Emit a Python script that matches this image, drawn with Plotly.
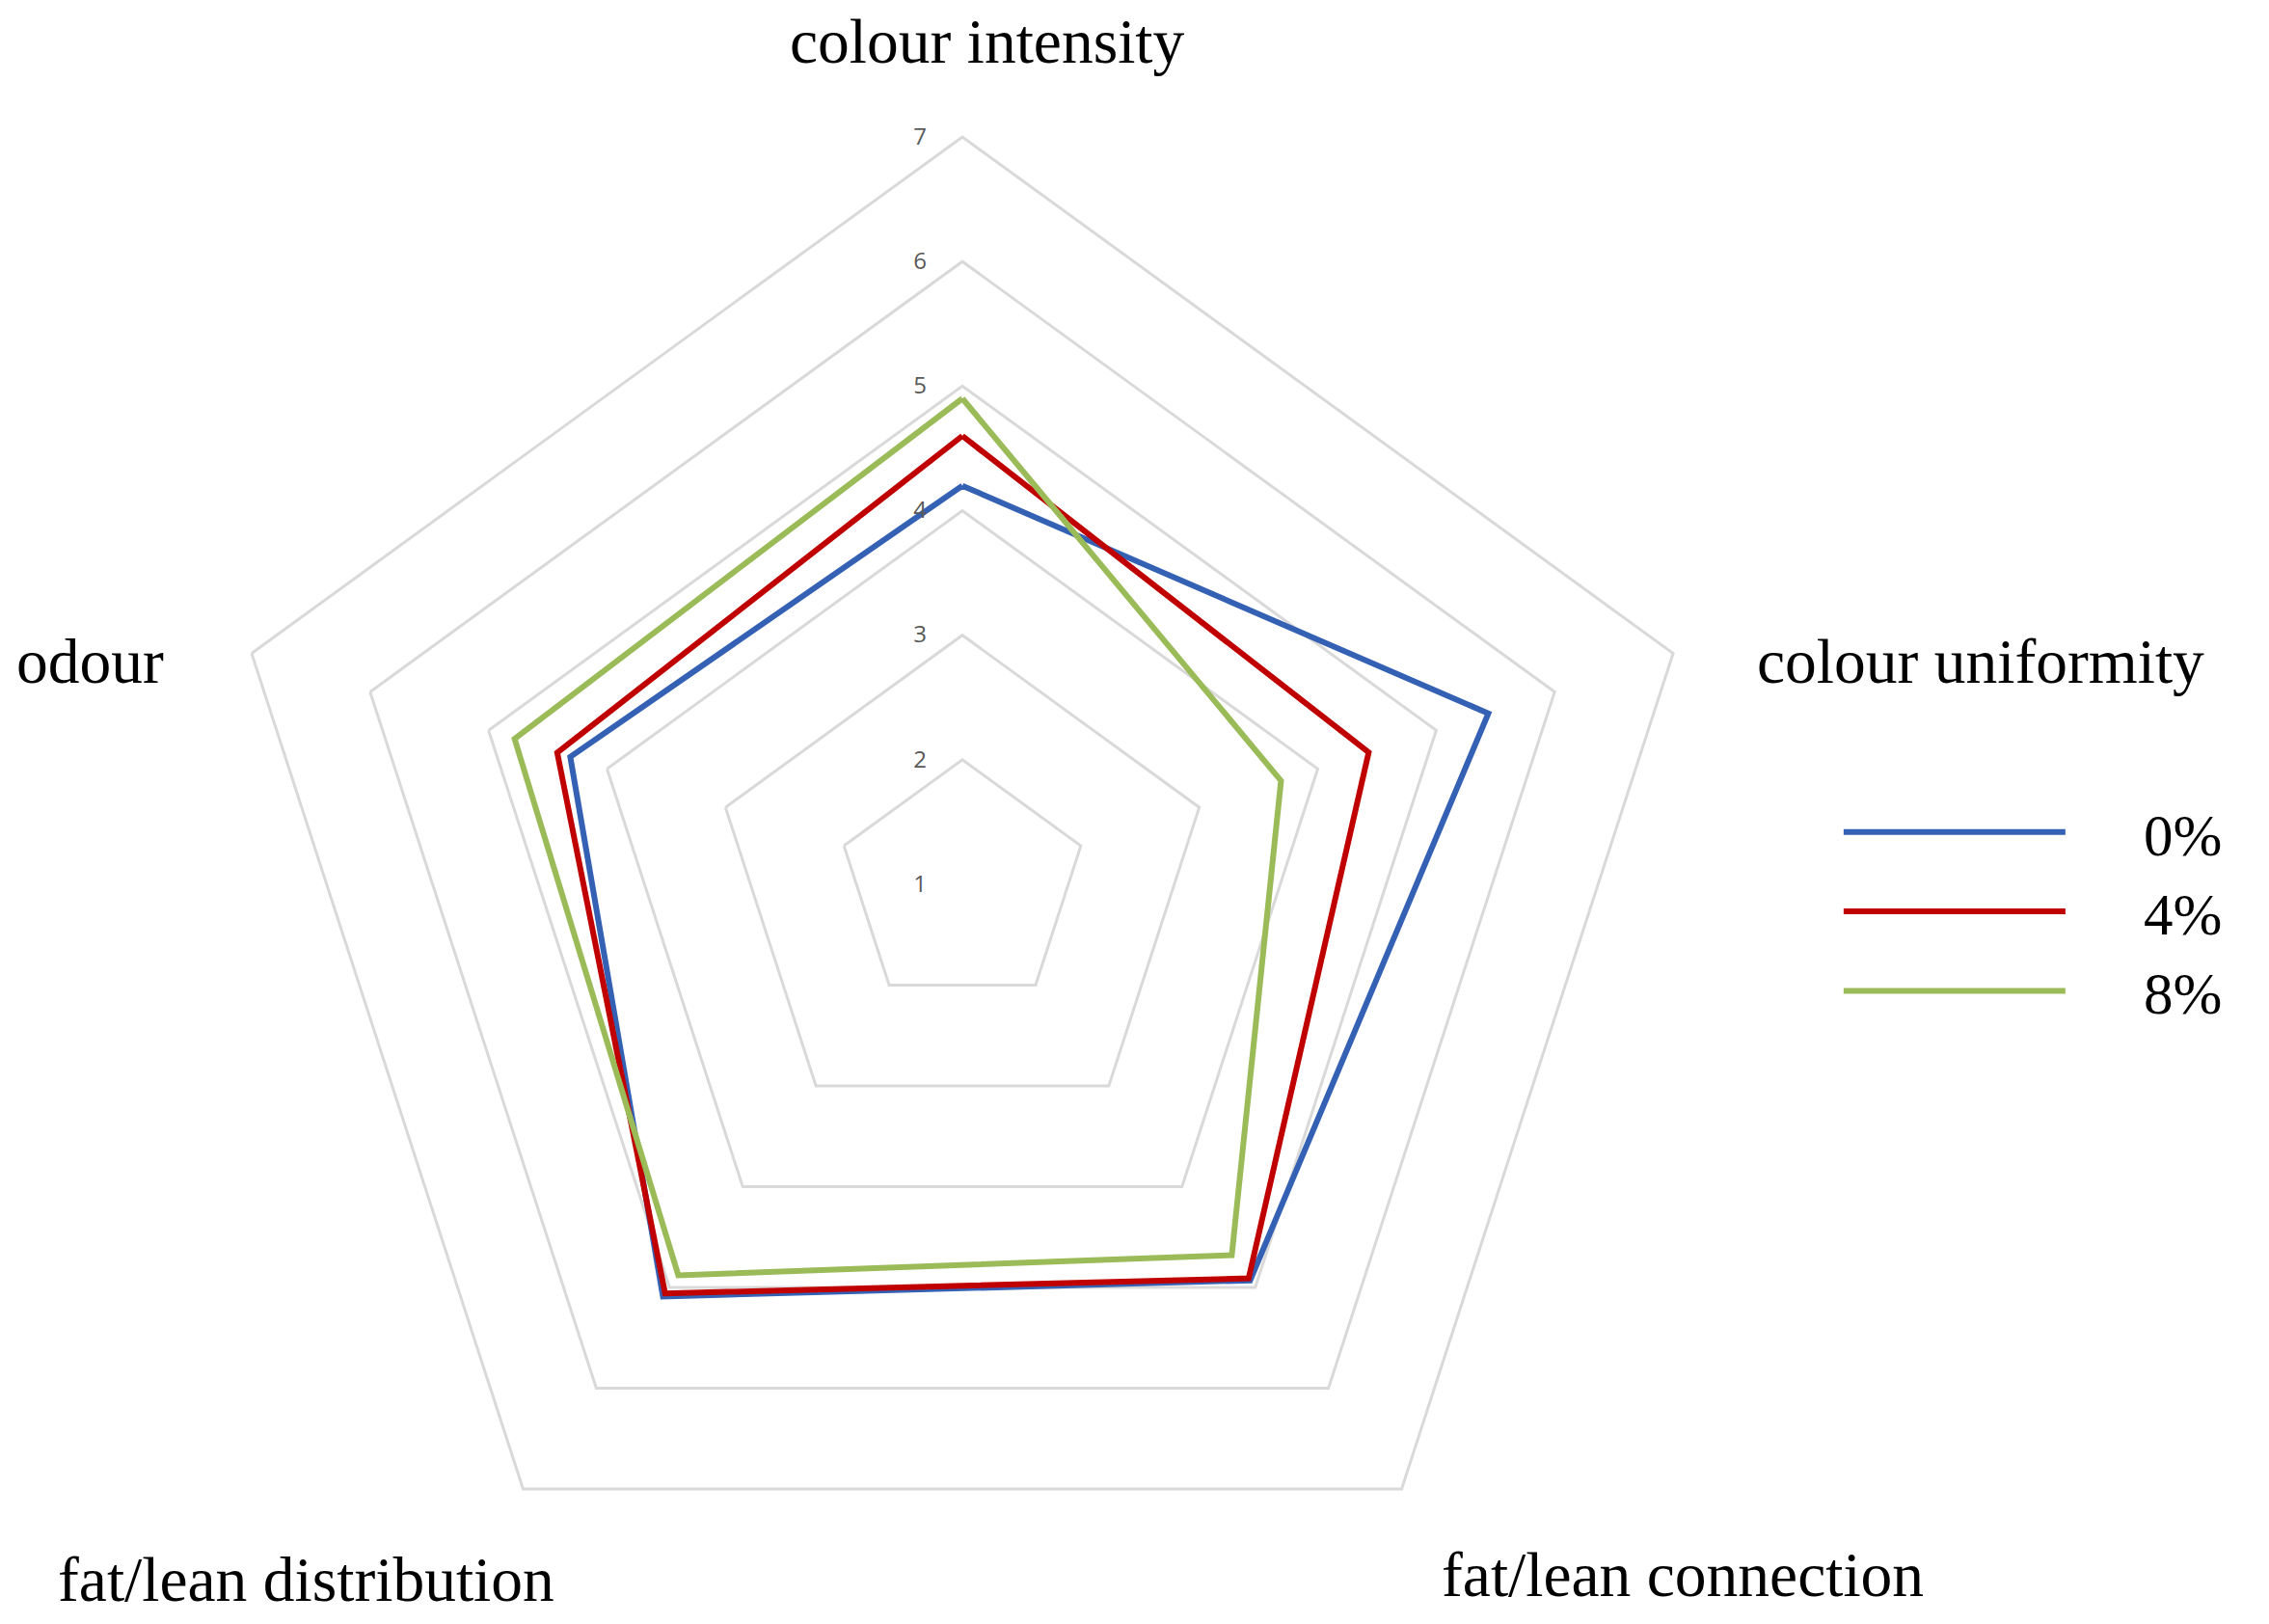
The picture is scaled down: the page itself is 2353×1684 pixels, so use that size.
import plotly.graph_objects as go

# attribute order runs clockwise from the top of the chart
attributes = [
    "colour intensity",
    "colour uniformity",
    "fat/lean connection",
    "fat/lean distribution",
    "odour",
]

series_names = ["0%", "4%", "8%"]
values_0 = [4.20, 5.44, 4.93, 5.09, 4.31]
values_4 = [4.60, 4.43, 4.91, 5.06, 4.42]
values_8 = [4.90, 3.69, 4.68, 4.88, 4.78]

radial_ticks = [1, 2, 3, 4, 5, 6, 7]

COLOURS = ["#3461B4", "#C00000", "#9BBB59"]
GRID = "#d9d9d9"
SERIF = "Liberation Serif, Times New Roman, serif"

W, H = 2353, 1684

# where each category label sits (paper px, centre of text)
LABEL_POS = [(1016, 35), (2046, 678), (1737, 1625), (309, 1630), (85, 678)]


def build_figure() -> go.Figure:
    fig = go.Figure()

    for name, vals, colour in zip(series_names, [values_0, values_4, values_8], COLOURS):
        # close the polygon by repeating the first point
        fig.add_trace(
            go.Scatterpolar(
                r=vals + vals[:1],
                theta=attributes + attributes[:1],
                mode="lines",
                # non-breaking spaces widen the gap between sample line and label
                name="\u00a0" * 5 + name,
                line=dict(color=colour, width=6),
            )
        )

    # category labels placed like the spreadsheet chart did
    for text, (px, py) in zip(attributes, LABEL_POS):
        fig.add_annotation(
            text=text,
            x=px / W,
            y=1 - py / H,
            xref="paper",
            yref="paper",
            xanchor="center",
            yanchor="middle",
            showarrow=False,
            font=dict(family=SERIF, size=65.5, color="#000000"),
        )

    # polar block: centre ~ (990, 909) px, radius ~775 px
    cx, cy, rad = 990, 909, 775
    fig.update_layout(
        width=W,
        height=H,
        margin=dict(l=0, r=0, t=0, b=0),
        paper_bgcolor="white",
        plot_bgcolor="white",
        font=dict(family=SERIF, size=62, color="#000000"),
        polar=dict(
            domain=dict(
                x=[(cx - rad) / W, (cx + rad) / W],
                y=[max(H - cy - rad, 0) / H, (H - cy + rad) / H],
            ),
            bgcolor="white",
            gridshape="linear",
            radialaxis=dict(
                range=[1, 7],
                tickvals=radial_ticks,
                angle=90,
                tickangle=90,
                side="counterclockwise",
                showline=False,
                # invisible ticks nudge the numbers off the axis to the left
                ticks="outside",
                ticklen=28,
                tickcolor="rgba(0,0,0,0)",
                gridcolor=GRID,
                gridwidth=3,
                tickfont=dict(family="Open Sans, sans-serif", size=24, color="#595959"),
            ),
            angularaxis=dict(
                direction="clockwise",
                rotation=90,
                showgrid=False,
                showline=True,
                linecolor=GRID,
                linewidth=3,
                ticks="",
                showticklabels=False,
            ),
        ),
        legend=dict(
            x=0.807,
            y=0.4435,
            yanchor="middle",
            xanchor="left",
            itemwidth=230,
            font=dict(family=SERIF, size=61),
            bgcolor="rgba(0,0,0,0)",
        ),
        showlegend=True,
    )
    return fig


fig = build_figure()
fig.write_html("out.html")
